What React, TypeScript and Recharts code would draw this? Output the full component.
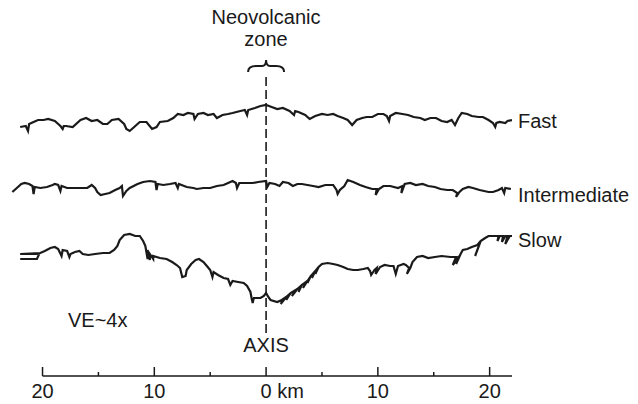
import React from "react";
import { LineChart, Line, XAxis, YAxis, ReferenceLine, ReferenceDot, Customized } from "recharts";

// distance from axis (km), relative elevation (arbitrary units, VE~4x)
const fastProfile: [number, number][] = [
  [-22.0, 249], [-21.5, 250], [-21.3, 245], [-21.2, 252], [-20.8, 254], [-20.4, 256], [-19.9, 256],
  [-19.5, 257], [-18.9, 255], [-18.4, 250], [-18.2, 247], [-18.1, 250], [-17.9, 250], [-17.3, 249],
  [-16.6, 256], [-16.1, 258], [-15.6, 255], [-15.1, 256], [-14.6, 252], [-14.2, 252], [-13.8, 256],
  [-13.2, 257], [-12.7, 252], [-12.5, 247], [-12.2, 245], [-11.7, 250], [-11.3, 254], [-10.7, 254],
  [-10.2, 247], [-9.8, 249], [-9.5, 254], [-8.8, 255], [-8.3, 258], [-7.9, 262], [-7.4, 261],
  [-7.0, 263], [-6.5, 262], [-6.4, 257], [-6.1, 262], [-5.6, 263], [-5.2, 261], [-4.7, 262],
  [-4.4, 258], [-3.9, 261], [-3.4, 262], [-3.0, 263], [-2.3, 265], [-1.9, 266], [-1.7, 261],
  [-1.6, 266], [-1.0, 268], [-0.5, 270], [0, 271], [0.5, 269], [1.0, 267], [1.5, 268], [2.1, 265],
  [2.5, 261], [2.6, 265], [2.9, 264], [3.5, 261], [3.9, 257], [4.4, 260], [5.0, 262], [5.5, 261],
  [6.0, 262], [6.4, 260], [6.9, 258], [7.3, 256], [7.7, 251], [8.1, 256], [8.6, 258], [9.0, 259],
  [9.5, 259], [10.0, 262], [10.5, 262], [10.8, 260], [11.0, 255], [11.1, 260], [11.6, 263],
  [12.2, 262], [12.7, 261], [13.2, 259], [13.8, 258], [14.2, 256], [14.7, 258], [15.2, 258],
  [15.7, 255], [16.2, 254], [16.6, 256], [16.9, 251], [17.2, 258], [17.5, 263], [18.0, 262],
  [18.4, 260], [19.0, 259], [19.4, 259], [19.9, 256], [20.3, 253], [20.5, 249], [20.6, 253],
  [20.9, 254], [21.4, 253], [21.6, 255], [22.0, 256],
];

const intermediateProfile: [number, number][] = [
  [-22.7, 184], [-22.3, 188], [-21.9, 192], [-21.6, 193], [-21.2, 192], [-20.9, 190], [-20.8, 182],
  [-20.7, 189], [-20.2, 188], [-19.6, 189], [-19.1, 191], [-18.9, 192], [-18.6, 191], [-18.4, 185],
  [-18.3, 190], [-17.8, 188], [-17.1, 188], [-16.0, 188], [-15.6, 191], [-15.3, 188], [-15.1, 184],
  [-14.8, 181], [-14.4, 182], [-14.0, 183], [-13.5, 186], [-13.1, 188], [-12.9, 190], [-12.8, 180],
  [-12.5, 185], [-12.2, 188], [-11.5, 192], [-11.0, 194], [-10.4, 195], [-9.9, 194], [-9.8, 186],
  [-9.7, 192], [-9.2, 191], [-8.6, 192], [-8.1, 193], [-7.9, 188], [-7.8, 192], [-7.1, 189],
  [-6.5, 188], [-6.2, 187], [-5.6, 188], [-5.0, 188], [-4.4, 190], [-3.8, 191], [-3.4, 193],
  [-3.0, 195], [-2.7, 193], [-2.6, 188], [-2.4, 193], [-1.7, 193], [-1.2, 193], [-0.7, 194],
  [0, 195], [0.1, 189], [0.3, 193], [0.8, 192], [1.2, 190], [1.5, 194], [2.0, 193], [2.4, 190],
  [2.8, 192], [3.2, 192], [3.7, 191], [4.2, 190], [4.7, 189], [5.3, 191], [6.0, 191], [6.3, 186],
  [6.4, 182], [6.6, 186], [7.0, 190], [7.3, 196], [7.8, 194], [8.4, 191], [8.9, 189], [9.5, 187],
  [9.9, 187], [9.8, 181], [10.1, 187], [10.5, 190], [11.1, 190], [11.8, 188], [12.2, 190],
  [12.1, 183], [12.4, 192], [12.9, 193], [13.4, 191], [14.0, 192], [14.5, 190], [15.1, 189],
  [15.6, 187], [16.2, 186], [16.7, 186], [17.1, 183], [17.0, 179], [17.3, 184], [17.6, 187],
  [18.1, 189], [18.5, 188], [19.1, 186], [19.9, 184], [20.3, 184], [20.8, 186], [21.1, 188],
  [21.3, 183], [21.4, 188], [21.9, 187],
];

const slowProfile: [number, number][] = [
  [-22.0, 117], [-20.5, 117], [-20.3, 122], [-22.0, 122], [-20.2, 123], [-19.8, 125], [-19.3, 128],
  [-18.9, 129], [-18.6, 127], [-18.3, 120], [-18.2, 126], [-17.8, 125], [-17.6, 119], [-17.5, 122],
  [-17.1, 124], [-16.7, 125], [-16.4, 122], [-15.9, 121], [-15.3, 122], [-14.6, 123], [-14.0, 123],
  [-13.6, 126], [-13.3, 130], [-13.1, 136], [-12.7, 141], [-12.2, 142], [-11.7, 140], [-11.3, 140],
  [-11.0, 135], [-10.8, 130], [-10.6, 117], [-10.6, 126], [-10.4, 116], [-10.4, 122], [-10.1, 117],
  [-10.1, 120], [-9.5, 118], [-8.9, 117], [-8.4, 114], [-8.0, 111], [-7.7, 108], [-7.5, 99],
  [-7.2, 100], [-7.1, 106], [-6.7, 112], [-6.3, 116], [-6.0, 117], [-5.6, 114], [-5.3, 110],
  [-5.0, 106], [-4.8, 99], [-4.7, 104], [-4.3, 101], [-3.8, 98], [-3.4, 97], [-3.2, 91], [-3.0, 95],
  [-2.5, 94], [-2.0, 93], [-1.7, 90], [-1.4, 84], [-1.3, 78], [-1.2, 73], [-1.1, 78], [-0.5, 78],
  [-0.2, 80], [0, 83], [0.2, 79], [0.4, 76], [1.0, 74], [1.4, 76], [1.8, 79], [1.3, 72], [1.8, 79],
  [2.2, 83], [1.8, 76], [2.2, 83], [2.8, 87], [2.3, 80], [2.8, 87], [3.2, 91], [2.9, 84], [3.2, 91],
  [3.7, 95], [3.3, 88], [3.7, 95], [4.0, 100], [3.7, 93], [4.0, 100], [4.4, 105], [4.1, 98],
  [4.4, 105], [4.7, 109], [4.4, 102], [4.7, 109], [5.0, 112], [5.5, 113], [6.0, 112], [6.4, 111],
  [6.9, 109], [7.3, 107], [7.8, 106], [8.2, 106], [8.7, 107], [9.1, 108], [9.3, 105], [9.4, 101],
  [9.7, 106], [9.9, 108], [9.8, 102], [10.2, 109], [10.6, 111], [11.1, 110], [11.4, 110], [11.6, 102],
  [11.8, 110], [12.3, 112], [12.5, 111], [12.8, 108], [12.6, 102], [12.9, 108], [13.1, 114],
  [13.5, 119], [14.0, 120], [14.5, 118], [15.1, 119], [15.7, 120], [16.5, 119], [17.0, 119],
  [16.7, 111], [17.3, 120], [17.0, 112], [17.4, 122], [17.6, 126], [18.0, 127], [18.4, 129],
  [18.9, 131], [19.2, 135], [18.7, 120], [19.2, 135], [19.6, 138], [19.9, 140], [20.3, 140],
  [20.8, 140], [20.7, 135], [20.9, 140], [21.2, 140], [21.1, 134], [21.4, 140], [21.6, 140],
  [21.4, 132], [21.8, 140], [22.0, 140],
];

const xTicks = [-20, -15, -10, -5, 0, 5, 10, 15, 20];
const xTickLabels = ["20", "", "10", "", "0 km", "", "10", "", "20"];
const majorTicks = [-20, -10, 0, 10, 20];

const toRows = (p: [number, number][]) => p.map(([x, y]) => ({ x, y }));
const fastData = toRows(fastProfile);
const intermediateData = toRows(intermediateProfile);
const slowData = toRows(slowProfile);

const INK = "#1a1a1a";
const FONT = "'Liberation Sans', Arial, Helvetica, sans-serif";

const Tick = (props: any) => {
  const { x, y, payload } = props;
  const v = payload.value as number;
  const idx = xTicks.indexOf(v);
  const label = idx >= 0 ? xTickLabels[idx] : "";
  const major = majorTicks.includes(v);
  return (
    <g>
      <line x1={x} x2={x} y1={y} y2={y - (major ? 9 : 4)} stroke={INK} strokeWidth={1.5} />
      {label && (
        <text
          x={v === 0 ? x - 5.6 : x}
          y={y + 22}
          textAnchor={v === 0 ? "start" : "middle"}
          fontSize={20}
          fontFamily={FONT}
          fill={INK}
        >
          {label}
        </text>
      )}
    </g>
  );
};

const Brace = (props: any) => {
  const { cx, cy } = props;
  const d = `M ${cx - 18} ${cy} Q ${cx - 18} ${cy - 6} ${cx - 10} ${cy - 6} L ${cx - 4} ${cy - 6} Q ${cx} ${cy - 6} ${cx} ${cy - 12} Q ${cx} ${cy - 6} ${cx + 4} ${cy - 6} L ${cx + 10} ${cy - 6} Q ${cx + 18} ${cy - 6} ${cx + 18} ${cy}`;
  return <path d={d} fill="none" stroke={INK} strokeWidth={2} />;
};

const Labels = () => (
  <g fontFamily={FONT} fontSize={20} fill={INK}>
    <text x={266} y={24} textAnchor="middle">Neovolcanic</text>
    <text x={266} y={46} textAnchor="middle">zone</text>
    <text x={518} y={128}>Fast</text>
    <text x={518} y={202}>Intermediate</text>
    <text x={518} y={247}>Slow</text>
    <text x={68} y={327}>VE~4x</text>
    <text x={266} y={352} textAnchor="middle">AXIS</text>
  </g>
);

export default function App() {
  return (
    <div style={{ position: "absolute", left: 0, top: 0, background: "#fff" }}>
      <LineChart width={638} height={404} margin={{ top: 0, right: 126, bottom: 0, left: 9 }}>
        <XAxis
          dataKey="x"
          type="number"
          domain={[-23, 22]}
          ticks={xTicks}
          allowDataOverflow
          axisLine={false}
          tickLine={false}
          tickSize={0}
          tickMargin={0}
          height={28}
          tick={<Tick />}
          interval={0}
        />
        <YAxis type="number" domain={[0, 376]} hide allowDataOverflow />
        <ReferenceLine
          segment={[{ x: -20, y: 0 }, { x: 22, y: 0 }]}
          stroke={INK}
          strokeWidth={1.5}
          ifOverflow="visible"
        />
        <ReferenceLine
          segment={[{ x: 0, y: 43 }, { x: 0, y: 300 }]}
          stroke={INK}
          strokeWidth={1.6}
          strokeDasharray="9 4"
          ifOverflow="visible"
        />
        <ReferenceDot x={0} y={304} r={0} shape={<Brace />} ifOverflow="visible" />
        <Line data={fastData} dataKey="y" type="linear" stroke={INK} strokeWidth={2.2} dot={false} isAnimationActive={false} />
        <Line data={intermediateData} dataKey="y" type="linear" stroke={INK} strokeWidth={2.2} dot={false} isAnimationActive={false} />
        <Line data={slowData} dataKey="y" type="linear" stroke={INK} strokeWidth={2.2} dot={false} isAnimationActive={false} />
        <Customized component={Labels} />
      </LineChart>
    </div>
  );
}
